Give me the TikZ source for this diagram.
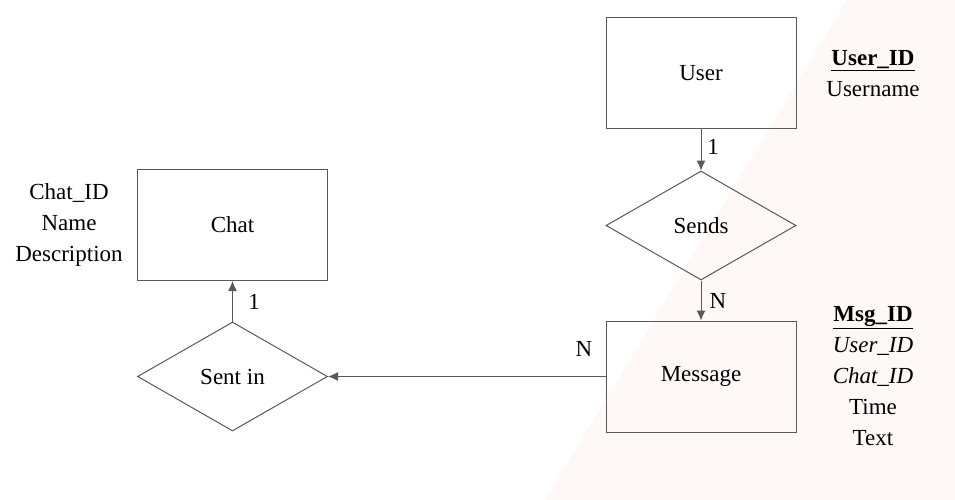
\documentclass[tikz,border=0pt]{standalone}
\usepackage{fontspec}
\setmainfont{Liberation Serif}
\usetikzlibrary{arrows.meta,shapes,positioning}

\definecolor{linegray}{HTML}{595959}
\definecolor{bgpink}{HTML}{FEF8F7}

\tikzset{
	entity/.style={draw=linegray,line width=1pt,rectangle,minimum width=190pt,minimum height=111pt,inner sep=0pt},
	relation/.style={draw=linegray,line width=1pt,diamond,minimum width=190pt,minimum height=109pt,inner sep=0pt},
	attr/.style={align=center,inner sep=0pt},
	link/.style={-{Latex[length=10pt,width=9pt]},draw=linegray,line width=1pt}
}

\begin{document}
\begin{tikzpicture}[x=1pt,y=-1pt,font=\fontsize{23}{31}\selectfont]

	\useasboundingbox (0,0) rectangle (955,500);
	\fill[bgpink] (847,0) -- (955,0) -- (955,500) -- (545,500) -- cycle;

	\node[entity] (user) at (701,73.5) {User};
	\node[relation] (sends) at (701,225.5) {Sends};
	\node[entity] (msg) at (701,376.5) {Message};
	\node[entity] (chat) at (232.5,225) {Chat};
	\node[relation] (sentin) at (232.5,376.5) {Sent in};

	\draw[link] (user) -- (sends);
	\draw[link] (sends) -- (msg);
	\draw[link] (sentin) -- (chat);
	\draw[link] (msg) -- (sentin);

	\node (c1) at (713,147) {1};
	\node (cN1) at (718,301) {N};
	\node (cN2) at (584,349) {N};
	\node (c2) at (254,302) {1};

	\node[attr] (userattr) at (873,74) {\underline{\textbf{User\_ID}}\\Username};
	\node[attr] (msgattr) at (873,376.5) {\underline{\textbf{Msg\_ID}}\\\textit{User\_ID}\\\textit{Chat\_ID}\\Time\\Text};
	\node[attr] (chatattr) at (69,224.5) {Chat\_ID\\Name\\Description};

\end{tikzpicture}
\end{document}
